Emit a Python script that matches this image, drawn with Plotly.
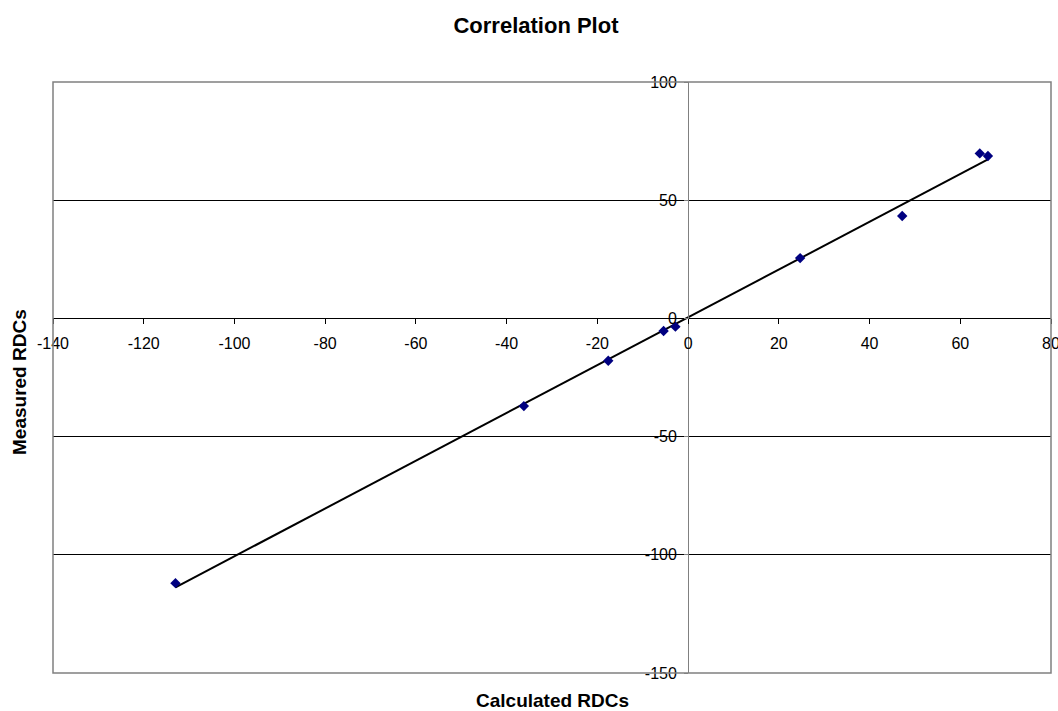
import numpy as np
import plotly.graph_objects as go

calculated = [-113.0, -36.2, -17.6, -5.4, -2.8, 24.7, 47.2, 64.3, 66.1]
measured = [-112.0, -37.1, -17.9, -5.3, -3.5, 25.5, 43.3, 69.8, 68.7]
x_ticks = list(range(-140, 81, 20))
y_ticks = list(range(-150, 101, 50))

X_RANGE = [-140, 80]
Y_RANGE = [-150, 100]

slope, intercept = np.polyfit(calculated, measured, 1)
fit_x = [min(calculated), max(calculated)]
fit_y = [slope * v + intercept for v in fit_x]

fig = go.Figure()
fig.add_trace(go.Scatter(x=fit_x, y=fit_y, mode="lines",
                         line=dict(color="black", width=2), showlegend=False,
                         hoverinfo="skip"))
fig.add_trace(go.Scatter(x=calculated, y=measured, mode="markers",
                         marker=dict(symbol="diamond", color="#000080", size=8,
                                     line=dict(width=0)),
                         showlegend=False))

xpos = (0 - Y_RANGE[0]) / (Y_RANGE[1] - Y_RANGE[0])
ypos = (0 - X_RANGE[0]) / (X_RANGE[1] - X_RANGE[0])

FAM = "Arial, Liberation Sans, sans-serif"
tick_font = dict(family=FAM, size=16, color="black")
axis_title_font = dict(family=FAM, size=19, color="black")

W, H = 1058, 711
fig.update_layout(
    width=W, height=H,
    margin=dict(l=53, r=7, t=82, b=38, autoexpand=False),
    paper_bgcolor="white", plot_bgcolor="white",
    font=tick_font,
    title=dict(text="<b>Correlation Plot</b>", x=536 / W, xanchor="center",
               xref="container", y=1 - 25 / H, yanchor="middle",
               font=dict(size=22, family=FAM, color="black")),
    xaxis=dict(range=X_RANGE, tickvals=x_ticks, ticktext=[str(v) for v in x_ticks],
               anchor="free", position=xpos, showline=True, linecolor="black",
               linewidth=1, ticks="outside", ticklen=5, tickcolor="black",
               showgrid=False, zeroline=False, tickfont=tick_font, automargin=False,
               ticklabeloverflow="allow", ticklabelstandoff=5),
    yaxis=dict(range=Y_RANGE, tickvals=y_ticks, ticktext=[str(v) for v in y_ticks],
               anchor="free", position=ypos, showline=True, linecolor="#808080",
               linewidth=1, ticks="outside", ticklen=4, tickcolor="#808080",
               showgrid=True, gridcolor="black", gridwidth=1, zeroline=False,
               tickfont=tick_font, automargin=False, ticklabeloverflow="allow",
               ticklabelstandoff=4),
    shapes=[dict(type="rect", xref="paper", yref="paper", x0=0, y0=0, x1=1, y1=1,
                 line=dict(color="#808080", width=1.5), layer="above")],
    annotations=[
        dict(text="<b>Calculated RDCs</b>", xref="paper", yref="paper",
             x=(552 - 53) / 998, y=-(700 - 673) / 591, xanchor="center",
             yanchor="middle", showarrow=False, font=axis_title_font),
        dict(text="<b>Measured RDCs</b>", xref="paper", yref="paper",
             x=-(53 - 19) / 998, y=(673 - 382) / 591, xanchor="center",
             yanchor="middle", textangle=-90, showarrow=False,
             font=axis_title_font),
    ],
)

fig.write_html("out.html", config={"displayModeBar": False},
               post_script="document.body.style.margin='0';document.body.style.overflow='hidden';")
